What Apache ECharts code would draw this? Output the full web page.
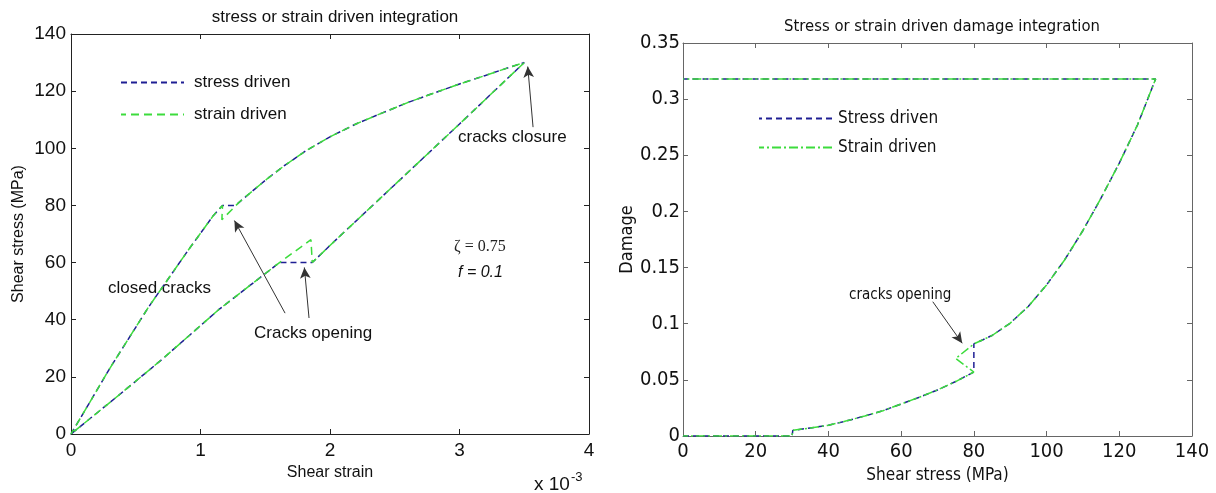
<!DOCTYPE html>
<html>
<head>
<meta charset="utf-8">
<script src="https://cdn.jsdelivr.net/npm/echarts@6/dist/echarts.min.js"></script>
<style>
  html, body { margin: 0; padding: 0; background: #fff; }
  #chart { width: 1216px; height: 493px; }
</style>
</head>
<body>
<div id="chart"></div>
<script>
// Left panel: shear strain (x 1e-3) vs shear stress (MPa)
const strainStressDriven = [
  [0, 0], [0.3, 23], [0.6, 44.5], [0.9, 64], [1.10, 76.5], [1.17, 80],
  [1.27, 80], [1.4, 85], [1.52, 89.5], [1.65, 94], [1.81, 99], [2.0, 104],
  [2.2, 108.5], [2.4, 112.3], [2.6, 116], [2.8, 119.3], [3.0, 122.5],
  [3.2, 125.5], [3.35, 127.8], [3.5, 130],
  [3.0, 108.5], [2.4, 83], [2.0, 66], [1.863, 60],
  [1.61, 60], [1.14, 43.5], [0.7, 26], [0.34, 12.5], [0, 0]
];
const strainStrainDriven = [
  [0, 0], [0.3, 23], [0.6, 44.5], [0.9, 64], [1.10, 76.5], [1.17, 80],
  [1.165, 75], [1.30, 81.2], [1.4, 85], [1.52, 89.5], [1.65, 94], [1.81, 99], [2.0, 104],
  [2.2, 108.5], [2.4, 112.3], [2.6, 116], [2.8, 119.3], [3.0, 122.5],
  [3.2, 125.5], [3.35, 127.8], [3.5, 130],
  [3.0, 108.5], [2.4, 83], [2.0, 66], [1.863, 60],
  [1.853, 68], [1.61, 60], [1.14, 43.5], [0.7, 26], [0.34, 12.5], [0, 0]
];
const strainTicks = [0, 1, 2, 3, 4];
const stressTicks = [0, 20, 40, 60, 80, 100, 120, 140];

// Right panel: shear stress (MPa) vs damage
const damageStressDriven = [
  [0, 0], [30, 0], [30.2, 0.005], [35, 0.0072], [40, 0.0095], [45, 0.0135],
  [50, 0.0178], [55, 0.0225], [60, 0.0285], [65, 0.0345], [70, 0.041],
  [75, 0.0485], [80, 0.057],
  [80, 0.082], [85, 0.0895], [90, 0.1005], [95, 0.1155], [100, 0.1345], [105, 0.157],
  [110, 0.183], [115, 0.212], [120, 0.243], [125, 0.277], [130, 0.318],
  [0, 0.318]
];
const damageStrainDriven = [
  [0, 0], [30, 0], [30.2, 0.005], [35, 0.0072], [40, 0.0095], [45, 0.0135],
  [50, 0.0178], [55, 0.0225], [60, 0.0285], [65, 0.0345], [70, 0.041],
  [75, 0.0485], [80, 0.057],
  [75, 0.069], [80, 0.082], [85, 0.0895], [90, 0.1005], [95, 0.1155], [100, 0.1345], [105, 0.157],
  [110, 0.183], [115, 0.212], [120, 0.243], [125, 0.277], [130, 0.318],
  [0, 0.318]
];
const damageTicks = [0, 0.05, 0.1, 0.15, 0.2, 0.25, 0.3, 0.35];
const shearStressTicks = [0, 20, 40, 60, 80, 100, 120, 140];

// annotation arrows in data coords: [tail, head]
const leftArrows = [
  [[3.568, 107.4], [3.527, 128.6]],
  [[1.653, 42.3], [1.262, 74.7]],
  [[1.838, 40.6], [1.802, 58.3]]
];
const rightArrows = [
  [[68.7, 0.1196], [76.8, 0.0826]]
];

const SANS = '"Liberation Sans", Arial, sans-serif';
const NARROW = '"Liberation Sans Narrow", "Arial Narrow", "DejaVu Sans Condensed", sans-serif';
const BLUE = '#1f1f94';
const GREEN = '#3cdc3c';

const chart = echarts.init(document.getElementById('chart'));

function boxAxis(gridIndex, pos, min, max, interval, color, extra) {
  return Object.assign({
    type: 'value', gridIndex: gridIndex, position: pos,
    min: min, max: max, interval: interval,
    splitLine: { show: false },
    axisLine: { show: true, onZero: false, lineStyle: { color: color, width: 1 } },
    axisTick: { show: true, inside: true, length: 5, lineStyle: { color: color } },
    axisLabel: { show: false }
  }, extra || {});
}

function arrowLines(list) {
  return {
    silent: true,
    symbol: ['none', 'arrow'],
    symbolSize: [8, 11],
    label: { show: false },
    lineStyle: { color: '#333', type: 'solid', width: 1 },
    data: list.map(a => [{ coord: a[0] }, { coord: a[1] }])
  };
}

chart.setOption({
  animation: false,
  backgroundColor: '#fff',
  title: [
    {
      text: 'stress or strain driven integration',
      left: 330, top: 4, textAlign: 'center',
      textStyle: { fontFamily: SANS, fontSize: 17, fontWeight: 'normal', color: '#111' }
    },
    {
      text: 'Stress or strain driven damage integration',
      left: 937, top: 13, textAlign: 'center',
      textStyle: { fontFamily: NARROW, fontSize: 16.5, fontWeight: 'normal', color: '#111' }
    }
  ],
  legend: [
    {
      data: ['stress driven', 'strain driven'],
      orient: 'vertical', left: 115, top: 69,
      itemWidth: 63, itemHeight: 14, itemGap: 15,
      itemStyle: { opacity: 0 },
      textStyle: { fontFamily: SANS, fontSize: 17, color: '#111', padding: [0, 0, 0, 5] }
    },
    {
      data: ['Stress driven', 'Strain driven'],
      orient: 'vertical', left: 753, top: 105,
      itemWidth: 74, itemHeight: 14, itemGap: 12,
      itemStyle: { opacity: 0 },
      textStyle: { fontFamily: NARROW, fontSize: 17, color: '#111', padding: [0, 0, 0, 0] }
    }
  ],
  grid: [
    { left: 71, top: 34, width: 518, height: 400 },
    { left: 683, top: 43, width: 509, height: 393 }
  ],
  xAxis: [
    boxAxis(0, 'bottom', strainTicks[0], strainTicks[strainTicks.length - 1], 1, '#222', {
      name: 'Shear strain', nameLocation: 'middle', nameGap: 28,
      nameTextStyle: { fontFamily: SANS, fontSize: 16, color: '#111' },
      axisLabel: { show: true, margin: 7, fontFamily: SANS, fontSize: 19, color: '#111' }
    }),
    boxAxis(0, 'top', strainTicks[0], strainTicks[strainTicks.length - 1], 1, '#222'),
    boxAxis(1, 'bottom', shearStressTicks[0], shearStressTicks[shearStressTicks.length - 1], 20, '#666', {
      name: 'Shear stress (MPa)', nameLocation: 'middle', nameGap: 27,
      nameTextStyle: { fontFamily: NARROW, fontSize: 17, color: '#111' },
      axisLabel: { show: true, margin: 6, fontFamily: NARROW, fontSize: 20, color: '#111' }
    }),
    boxAxis(1, 'top', shearStressTicks[0], shearStressTicks[shearStressTicks.length - 1], 20, '#666')
  ],
  yAxis: [
    boxAxis(0, 'left', stressTicks[0], stressTicks[stressTicks.length - 1], 20, '#222', {
      name: 'Shear stress (MPa)', nameLocation: 'middle', nameGap: 44,
      nameTextStyle: { fontFamily: SANS, fontSize: 16, color: '#111' },
      axisLabel: { show: true, margin: 5, fontFamily: SANS, fontSize: 19, color: '#111' }
    }),
    boxAxis(0, 'right', stressTicks[0], stressTicks[stressTicks.length - 1], 20, '#222'),
    boxAxis(1, 'left', damageTicks[0], damageTicks[damageTicks.length - 1], 0.05, '#666', {
      name: 'Damage', nameLocation: 'middle', nameGap: 35,
      nameTextStyle: { fontFamily: NARROW, fontSize: 18, color: '#111' },
      axisLabel: { show: true, margin: 3, fontFamily: NARROW, fontSize: 20, color: '#111',
        formatter: v => String(Math.round(v * 100) / 100) }
    }),
    boxAxis(1, 'right', damageTicks[0], damageTicks[damageTicks.length - 1], 0.05, '#666')
  ],
  series: [
    {
      name: 'stress driven', type: 'line', xAxisIndex: 0, yAxisIndex: 0,
      data: strainStressDriven, showSymbol: false, symbol: 'none',
      lineStyle: { color: BLUE, width: 1.5, type: [6, 4] },
      itemStyle: { color: BLUE },
      markLine: arrowLines(leftArrows)
    },
    {
      name: 'strain driven', type: 'line', xAxisIndex: 0, yAxisIndex: 0,
      data: strainStrainDriven, showSymbol: false, symbol: 'none',
      lineStyle: { color: GREEN, width: 1.5, type: [8, 5], dashOffset: 3 },
      itemStyle: { color: GREEN }
    },
    {
      name: 'Stress driven', type: 'line', xAxisIndex: 2, yAxisIndex: 2,
      data: damageStressDriven, showSymbol: false, symbol: 'none',
      lineStyle: { color: BLUE, width: 1.5, type: [6, 4] },
      itemStyle: { color: BLUE },
      markLine: arrowLines(rightArrows)
    },
    {
      name: 'Strain driven', type: 'line', xAxisIndex: 2, yAxisIndex: 2,
      data: damageStrainDriven, showSymbol: false, symbol: 'none',
      lineStyle: { color: GREEN, width: 1.5, type: [9, 3, 2, 3], dashOffset: 4 },
      itemStyle: { color: GREEN }
    }
  ],
  graphic: [
    { type: 'text', left: 534, top: 471, style: {
      text: '{b|x 10}{s|-3}', fill: '#111',
      rich: { b: { fontFamily: SANS, fontSize: 19, verticalAlign: 'bottom' },
              s: { fontFamily: SANS, fontSize: 13, verticalAlign: 'top', padding: [0, 0, 10, 1] } } } },
    { type: 'text', x: 108, y: 288, style: { text: 'closed cracks', fontFamily: SANS, fontSize: 17, fill: '#111', verticalAlign: 'middle' } },
    { type: 'text', x: 254, y: 333, style: { text: 'Cracks opening', fontFamily: SANS, fontSize: 17, fill: '#111', verticalAlign: 'middle' } },
    { type: 'text', x: 458, y: 137, style: { text: 'cracks closure', fontFamily: SANS, fontSize: 17, fill: '#111', verticalAlign: 'middle' } },
    { type: 'text', x: 454, y: 247, style: { text: 'ζ = 0.75', fontFamily: '"Liberation Serif", serif', fontSize: 16, fill: '#222', verticalAlign: 'middle' } },
    { type: 'text', x: 458, y: 273, style: { text: 'f = 0.1', fontFamily: SANS, fontStyle: 'italic', fontSize: 16, fill: '#111', verticalAlign: 'middle' } },
    { type: 'text', x: 849, y: 295, style: { text: 'cracks opening', fontFamily: NARROW, fontSize: 15, fill: '#111', verticalAlign: 'middle' } }
  ]
});
</script>
</body>
</html>
